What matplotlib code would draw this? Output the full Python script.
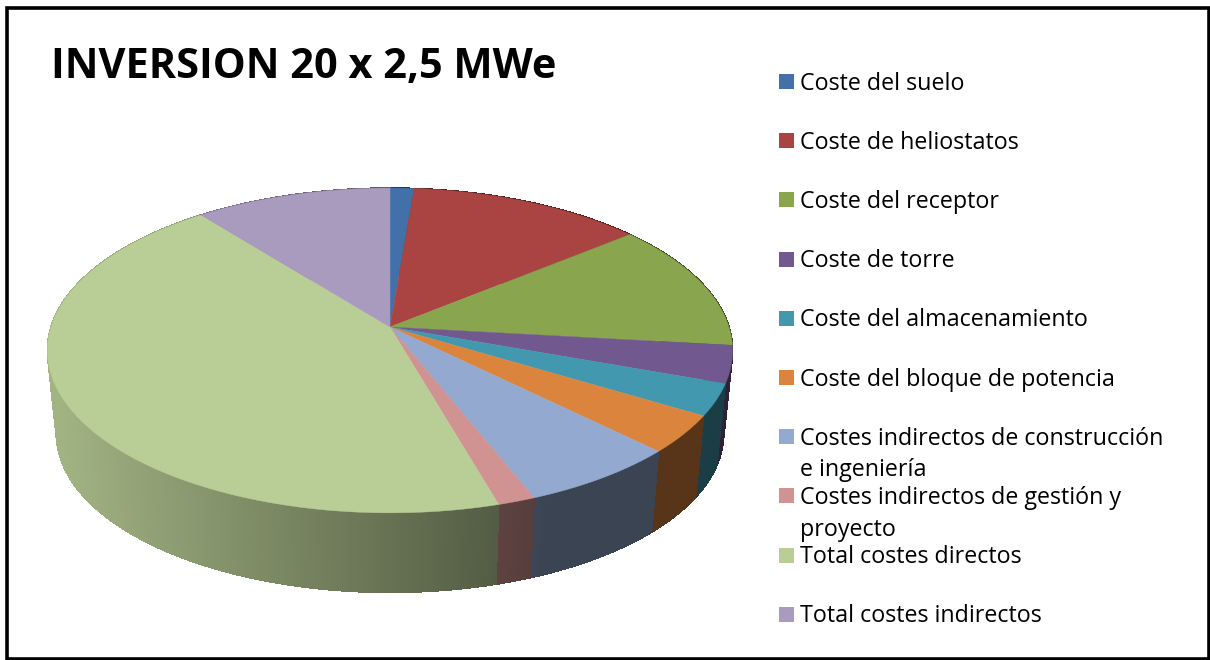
import numpy as np
import matplotlib
matplotlib.use("Agg")
import matplotlib.pyplot as plt
from matplotlib.collections import PolyCollection
from matplotlib.colors import to_rgb
from matplotlib.patches import Rectangle

TITLE = "INVERSION 20 x 2,5 MWe"
labels = ["Coste del suelo", "Coste de heliostatos", "Coste del receptor", "Coste de torre",
          "Coste del almacenamiento", "Coste del bloque de potencia",
          "Costes indirectos de construcción\ne ingeniería",
          "Costes indirectos de gestión y\nproyecto",
          "Total costes directos", "Total costes indirectos"]
shares = [1.3, 12.75, 12.75, 3.7, 3.15, 3.75, 6.6, 1.55, 43.8, 10.65]
colors = ["#4270A8", "#A94442", "#89A54E", "#71588F", "#4198AF",
          "#DB843D", "#93A9CF", "#D19392", "#B9CD96", "#A99BBD"]

# perspective of the disc, in pixels
CX, CY, A, B, K = 390.0, 327.0, 159.0, 339.0, 0.1446
ELL_TOP = (391.0, 350.0, 344.0, 162.5)
ELL_BOTTOM = (391.0, 433.0, 335.0, 159.0)


def top_point(deg):
    t = np.radians(deg)
    X, Y = np.sin(t), np.cos(t)
    w = 1 + K * Y
    return CX + B * X / w, CY - A * Y / w


def bottom_point(deg):
    x, y = top_point(deg)
    u = (x - ELL_TOP[0]) / ELL_TOP[2]
    v = (y - ELL_TOP[1]) / ELL_TOP[3]
    return ELL_BOTTOM[0] + ELL_BOTTOM[2] * u, ELL_BOTTOM[1] + ELL_BOTTOM[3] * v


def shade(x):
    return np.clip(0.87 - 0.00095 * (x - 57), 0.40, 1.0)


fig = plt.figure(figsize=(12.1, 6.6), dpi=100, facecolor="white")
ax = fig.add_axes([0, 0, 1, 1])
ax.set_xlim(0, 1210)
ax.set_ylim(660, 0)
ax.axis("off")

ax.add_patch(Rectangle((7, 7.5), 1202, 651, fill=False, ec="black", lw=2.6, zorder=5))

edges = np.concatenate([[0], np.cumsum(shares)]) / np.sum(shares) * 360

# side wall first, then the top covers its back half
polys, wall_cols = [], []
for i, c in enumerate(colors):
    ts = np.arange(edges[i], edges[i + 1], 0.5).tolist() + [edges[i + 1]]
    for t0, t1 in zip(ts[:-1], ts[1:]):
        p0, p1 = top_point(t0), top_point(t1)
        q0, q1 = bottom_point(t0), bottom_point(t1)
        polys.append([p0, p1, q1, q0])
        wall_cols.append(tuple(np.array(to_rgb(c)) * shade((p0[0] + p1[0]) / 2)))
ax.add_collection(PolyCollection(polys, facecolors=wall_cols, edgecolors=wall_cols, linewidths=0.5,
                                 antialiaseds=False, zorder=2))

for i, c in enumerate(colors):
    ts = np.linspace(edges[i], edges[i + 1], 120)
    xs, ys = top_point(ts)
    ax.fill(np.r_[CX, xs], np.r_[CY, ys], color=c, lw=0.3, zorder=3)

ax.text(51, 78, TITLE, family="Open Sans", weight="bold", fontsize=29.9, va="baseline", ha="left", color="black")

for i, (lab, c) in enumerate(zip(labels, colors)):
    y = 81.5 + 59.2 * i
    ax.add_patch(Rectangle((779, y - 7.5), 15, 15, color=c, lw=0))
    ax.text(800, y - 10, lab, family="Open Sans", fontsize=16.75, va="top", ha="left",
            color="black", linespacing=1.43)

fig.savefig("out.png", dpi=100, facecolor="white")
